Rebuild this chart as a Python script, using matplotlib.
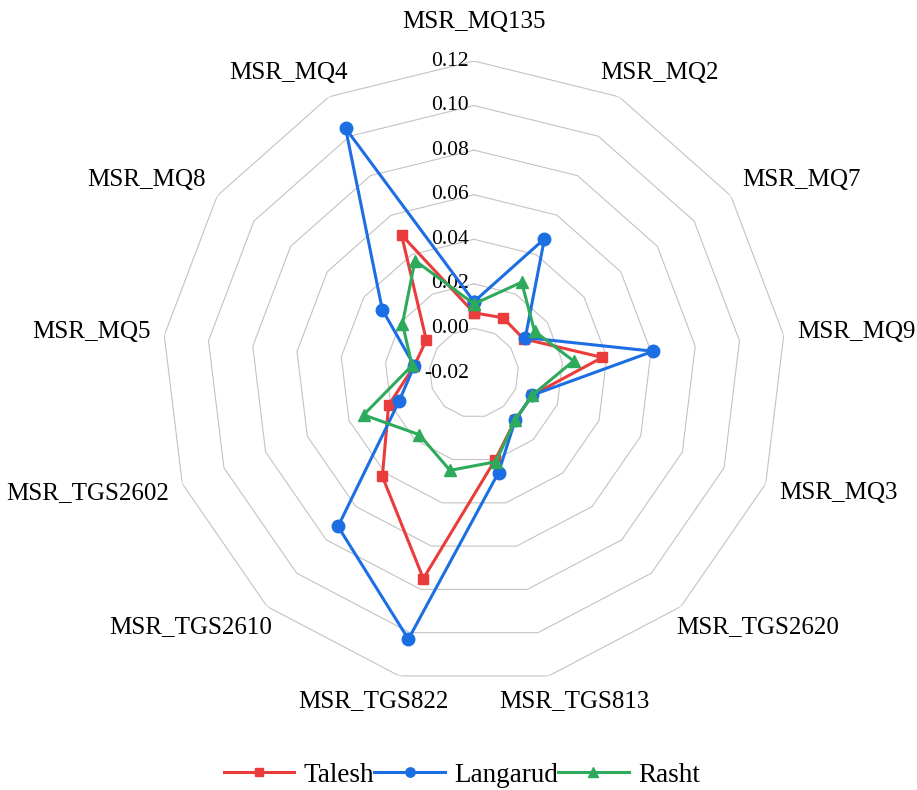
import numpy as np
import matplotlib
matplotlib.use("Agg")
import matplotlib.pyplot as plt
from matplotlib import transforms

plt.rcParams['font.family'] = ['Liberation Serif', 'DejaVu Serif']

# sensors, clockwise from the top
categories = ['MSR_MQ135', 'MSR_MQ2', 'MSR_MQ7', 'MSR_MQ9', 'MSR_MQ3', 'MSR_TGS2620',
              'MSR_TGS813', 'MSR_TGS822', 'MSR_TGS2610', 'MSR_TGS2602', 'MSR_MQ5',
              'MSR_MQ8', 'MSR_MQ4']
talesh = [0.007, 0.008, 0.007, 0.038, 0.008, 0.008, 0.020, 0.075, 0.042, 0.021, 0.007, 0.006, 0.050]
langarud = [0.012, 0.048, 0.008, 0.061, 0.008, 0.008, 0.026, 0.103, 0.072, 0.016, 0.007, 0.030, 0.104]
rasht = [0.011, 0.026, 0.013, 0.025, 0.008, 0.008, 0.021, 0.025, 0.017, 0.033, 0.008, 0.019, 0.037]
levels = [-0.02, 0.00, 0.02, 0.04, 0.06, 0.08, 0.10, 0.12]

series = [('Talesh', talesh, '#EB3C3C', 's', 7.5),
          ('Langarud', langarud, '#1C6FE3', 'o', 9),
          ('Rasht', rasht, '#2EAA5C', '^', 9)]

W, H = 917, 790
fig = plt.figure(figsize=(W / 100, H / 100), dpi=100)
cx, cy, R = 474, 373, 312  # pixel centre / radius of the web
ax = fig.add_axes([(cx - R) / W, 1 - (cy + R) / H, 2 * R / W, 2 * R / H], projection='polar')
ax.set_theta_zero_location('N')
ax.set_theta_direction(-1)
ax.set_ylim(levels[0], levels[-1])
ax.grid(False)
ax.spines['polar'].set_visible(False)
ax.set_xticks([])
ax.set_yticks([])

n = len(categories)
angles = np.arange(n) * 2 * np.pi / n
closed = np.append(angles, angles[0])

# polygon rings
for lv in levels[1:]:
    ax.plot(closed, [lv] * (n + 1), color='#c3c3c3', lw=0.8, zorder=1)

# value labels along the top axis
off = transforms.offset_copy(ax.transData, fig=fig, x=-5, y=0, units='dots')
for lv in levels:
    ax.text(0, lv, f'{lv:.2f}', transform=off, ha='right', va='center', fontsize=15.5)

for name, vals, col, mk, ms in series:
    ax.plot(closed, vals + vals[:1], color=col, lw=2.2, marker=mk, markersize=ms,
            label=name, zorder=3, clip_on=False)

# category labels just outside each vertex
fig.canvas.draw()
rend = fig.canvas.get_renderer()
c0 = ax.transData.transform((0, levels[0]))
for ang, name in zip(angles, categories):
    v = ax.transData.transform((ang, levels[-1]))
    u = (v - c0) / np.linalg.norm(v - c0)
    t = fig.text(0, 0, name, ha='center', va='center', fontsize=18)
    bb = t.get_window_extent(rend)
    w, h = bb.width, bb.height
    gap = 14 + (14 if u[1] > 0.95 else 0)
    px = v[0] + gap * u[0] + w / 2 * np.clip(1.25 * u[0], -1, 1)
    py = v[1] + gap * u[1] + h / 2 * np.clip(1.25 * u[1], -1, 1)
    t.set_position((px / W, py / H))

fig.legend(loc='center', bbox_to_anchor=(462 / W, 1 - 775 / H), ncol=3, frameon=False,
           fontsize=19.5, handlelength=2.6, handletextpad=0.35, columnspacing=0.0,
           markerscale=0.75)

fig.savefig('out.png', dpi=100)
